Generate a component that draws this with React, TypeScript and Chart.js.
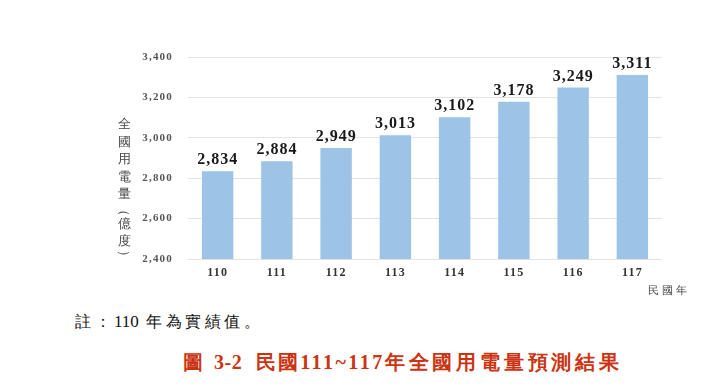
import React, { useEffect, useRef } from "react";
import { Chart, registerables } from "chart.js";

Chart.register(...registerables);

const categories = ["110", "111", "112", "113", "114", "115", "116", "117"];
const values = [2834, 2884, 2949, 3013, 3102, 3178, 3249, 3311];
const yTicks = [2400, 2600, 2800, 3000, 3200, 3400];
const yTitleChars = ["全", "國", "用", "電", "量", "（", "億", "度", "）"];

const fmt = (v: number) => v.toLocaleString("en-US");

const labelPlugin = {
  id: "barLabels",
  beforeDraw(chart: any) {
    chart.ctx.letterSpacing = "1.2px";
  },
  afterDatasetsDraw(chart: any) {
    const ctx = chart.ctx;
    const meta = chart.getDatasetMeta(0);
    ctx.save();
    ctx.letterSpacing = "1px";
    ctx.font = "bold 16px 'Liberation Serif', 'Times New Roman', serif";
    ctx.fillStyle = "#1a1a1a";
    ctx.textAlign = "center";
    ctx.textBaseline = "alphabetic";
    meta.data.forEach((bar: any, i: number) => {
      ctx.fillText(fmt(values[i]), bar.x, bar.y - 7);
    });
    ctx.restore();
  },
};

function App() {
  const ref = useRef<HTMLCanvasElement>(null);
  useEffect(() => {
    const chart = new Chart(ref.current!, {
      type: "bar",
      data: {
        labels: categories,
        datasets: [
          {
            data: values,
            backgroundColor: "#9dc3e6",
            borderWidth: 0,
            barPercentage: 0.53,
            categoryPercentage: 1,
          },
        ],
      },
      options: {
        responsive: false,
        animation: false,
        devicePixelRatio: 1,
        layout: { padding: { left: 0, right: 58, top: 57, bottom: 0 } },
        plugins: { legend: { display: false }, tooltip: { enabled: false } },
        scales: {
          x: {
            grid: { display: false, drawTicks: false },
            border: { display: false },
            ticks: {
              color: "#333333",
              padding: 7,
              font: { family: "'Liberation Serif', 'Times New Roman', serif", size: 12, weight: "bold" },
            },
            afterFit(scale: any) {
              scale.height = 41;
            },
          },
          y: {
            min: 2400,
            max: 3400,
            afterBuildTicks(scale: any) {
              scale.ticks = yTicks.map((v) => ({ value: v }));
            },
            grid: { color: "#e3e3e3", drawTicks: false, lineWidth: 1 },
            border: { display: false },
            ticks: {
              color: "#555555",
              padding: 15,
              font: { family: "'Liberation Serif', 'Times New Roman', serif", size: 11, weight: "bold" },
              callback: (v: any) => fmt(Number(v)),
            },
            afterFit(scale: any) {
              scale.width = 188;
            },
          },
        },
      },
      plugins: [labelPlugin],
    });
    return () => chart.destroy();
  }, []);

  return (
    <div
      style={{
        position: "absolute",
        left: 0,
        top: 0,
        width: 720,
        height: 389,
        background: "#ffffff",
        overflow: "hidden",
        fontFamily: "'Liberation Serif', 'Times New Roman', serif",
      }}
    >
      <canvas ref={ref} width={720} height={300} style={{ position: "absolute", left: 0, top: 0 }} />
      <div style={{ position: "absolute", left: 116, top: 115, width: 16 }}>
        {yTitleChars.map((c, i) => {
          const paren = c === "（" || c === "）";
          return (
            <div
              key={i}
              style={{
                height: paren ? 12 : 17.5,
                lineHeight: paren ? "12px" : "17.5px",
                fontSize: 13,
                color: "#444444",
                textAlign: "center",
                transform: paren ? "rotate(90deg)" : undefined,
              }}
            >
              {c}
            </div>
          );
        })}
      </div>
      <div
        style={{
          position: "absolute",
          left: 648,
          top: 283,
          fontSize: 11,
          letterSpacing: "3px",
          color: "#444444",
          whiteSpace: "nowrap",
        }}
      >
        民國年
      </div>
      <div
        style={{
          position: "absolute",
          left: 75,
          top: 312,
          fontSize: 16,
          letterSpacing: "3.5px",
          color: "#111111",
          whiteSpace: "nowrap",
        }}
      >
        註：<span style={{ letterSpacing: "0px", fontSize: 17 }}>110</span> 年為實績值。
      </div>
      <div
        style={{
          position: "absolute",
          left: 183,
          top: 349,
          fontSize: 20,
          fontWeight: "bold",
          color: "#cc3311",
          whiteSpace: "nowrap",
        }}
      >
        <span style={{ letterSpacing: "3px" }}>圖 </span>
        <span style={{ letterSpacing: "0.5px" }}>3-2</span>
        <span style={{ letterSpacing: "2px" }}>&nbsp;&nbsp;民國</span>
        <span style={{ letterSpacing: "2.5px" }}>111~117</span>
        <span style={{ letterSpacing: "3.8px" }}>年全國用電量預測結果</span>
      </div>
    </div>
  );
}

export default App;
